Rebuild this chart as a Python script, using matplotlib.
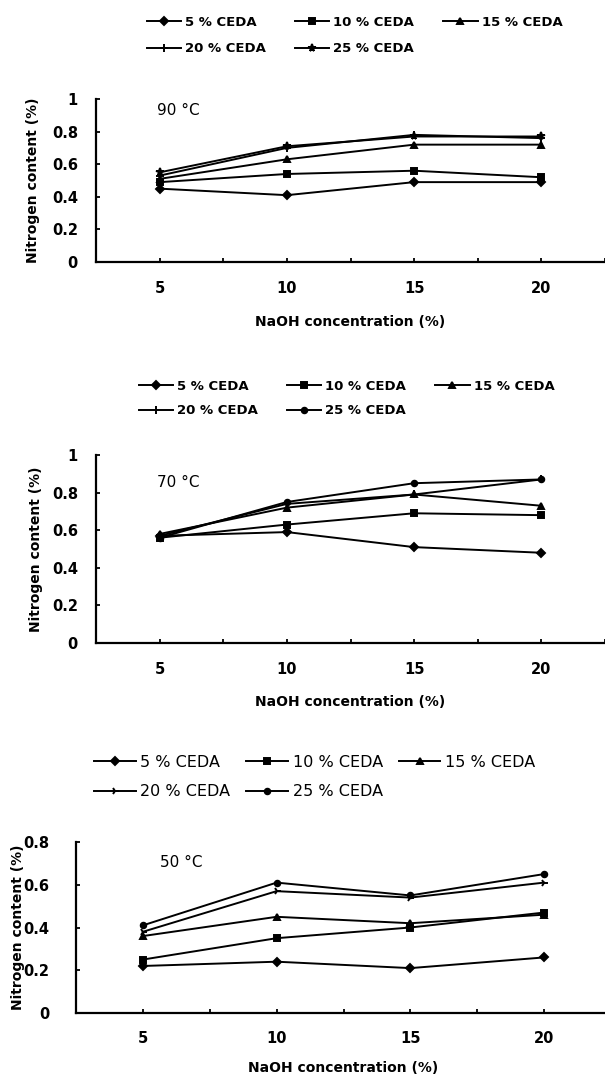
import matplotlib.pyplot as plt
from matplotlib.ticker import FixedLocator

plt.rcParams['font.family'] = ['DejaVu Sans']

# concentration de NaOH (%)
naoh = [5, 10, 15, 20]
ceda = ["5 % CEDA", "10 % CEDA", "15 % CEDA", "20 % CEDA", "25 % CEDA"]

# 90 °C
n90_5 = [0.45, 0.41, 0.49, 0.49]
n90_10 = [0.49, 0.54, 0.56, 0.52]
n90_15 = [0.51, 0.63, 0.72, 0.72]
n90_20 = [0.53, 0.70, 0.78, 0.76]
n90_25 = [0.55, 0.71, 0.77, 0.77]

# 70 °C
n70_5 = [0.57, 0.59, 0.51, 0.48]
n70_10 = [0.56, 0.63, 0.69, 0.68]
n70_15 = [0.58, 0.72, 0.79, 0.73]
n70_20 = [0.57, 0.74, 0.79, 0.87]
n70_25 = [0.56, 0.75, 0.85, 0.87]

# 50 °C
n50_5 = [0.22, 0.24, 0.21, 0.26]
n50_10 = [0.25, 0.35, 0.40, 0.47]
n50_15 = [0.36, 0.45, 0.42, 0.46]
n50_20 = [0.38, 0.57, 0.54, 0.61]
n50_25 = [0.41, 0.61, 0.55, 0.65]

W, H = 605, 1076
fig = plt.figure(figsize=(W / 100, H / 100), dpi=100)

panels = [
    # series, label, ymax, axes rect (px: left, top, width, height), legend (left, top), fonts
    dict(series=[n90_5, n90_10, n90_15, n90_20, n90_25], label="90 °C", ymax=1.0,
         rect=(96, 99, 509, 163), leg=(147, 16), legfs=9.5, legw="bold", colsp=2.2,
         lsp=1.0, marks=["D", "s", "^", "+", "*"],
         txt=(0.12, 0.93), ylab=-0.124, xlab=-0.368, ypad=13, xpad=14),
    dict(series=[n70_5, n70_10, n70_15, n70_20, n70_25], label="70 °C", ymax=1.0,
         rect=(96, 455, 509, 188), leg=(139, 380), legfs=9.5, legw="bold", colsp=2.2,
         lsp=0.85, marks=["D", "s", "^", "|", "o"],
         txt=(0.12, 0.856), ylab=-0.118, xlab=-0.314, ypad=13, xpad=14),
    dict(series=[n50_5, n50_10, n50_15, n50_20, n50_25], label="50 °C", ymax=0.8,
         rect=(76, 842, 535, 171), leg=(94, 755), legfs=11.5, legw="normal", colsp=1.0,
         lsp=0.9, marks=["D", "s", "^", "4", "o"],
         txt=(0.157, 0.883), ylab=-0.108, xlab=-0.322, ypad=19, xpad=13),
]

for p in panels:
    l, t, w, h = p["rect"]
    ax = fig.add_axes([l / W, 1 - (t + h) / H, w / W, h / H])
    lines = []
    for vals, mk in zip(p["series"], p["marks"]):
        ms = 4 if mk in ("D", "s", "o") else 4.5 if mk == "^" else 5.5
        ln, = ax.plot(naoh, vals, color="black", lw=1.4, marker=mk, markersize=ms,
                      markeredgewidth=1.4)
        lines.append(ln)
    ax.set_xlim(2.5, 22.5)
    ax.set_ylim(0, p["ymax"])
    ax.set_xticks(naoh)
    ax.xaxis.set_minor_locator(FixedLocator([2.5, 7.5, 12.5, 17.5, 22.5]))
    yt = [0, 0.2, 0.4, 0.6, 0.8, 1.0] if p["ymax"] == 1.0 else [0, 0.2, 0.4, 0.6, 0.8]
    ax.set_yticks(yt)
    ax.set_yticklabels(["%g" % v for v in yt])
    ax.tick_params(axis="both", which="both", direction="in", length=3, width=1.3,
                   labelsize=10.5)
    ax.tick_params(axis="y", pad=p["ypad"])
    ax.tick_params(axis="x", pad=p["xpad"])
    for lab in ax.get_xticklabels() + ax.get_yticklabels():
        lab.set_fontweight("bold")
    for s in ["top", "right"]:
        ax.spines[s].set_visible(False)
    for s in ["left", "bottom"]:
        ax.spines[s].set_linewidth(1.6)
    ax.set_xlabel("NaOH concentration (%)", fontsize=10, fontweight="bold")
    ax.xaxis.set_label_coords(0.5, p["xlab"])
    ax.xaxis.label.set_verticalalignment("center")
    ax.set_ylabel("Nitrogen content (%)", fontsize=10, fontweight="bold")
    ax.yaxis.set_label_coords(p["ylab"], 0.5)
    ax.yaxis.label.set_verticalalignment("center")
    ax.text(p["txt"][0], p["txt"][1], p["label"], transform=ax.transAxes,
            fontsize=11, va="center", ha="left")
    order = [0, 3, 1, 4, 2]
    fig.legend([lines[i] for i in order], [ceda[i] for i in order], ncol=3,
               loc="upper left", bbox_to_anchor=(p["leg"][0] / W, 1 - p["leg"][1] / H),
               frameon=False, prop=dict(size=p["legfs"], weight=p["legw"]), borderpad=0,
               borderaxespad=0, handlelength=2.6, handletextpad=0.3,
               columnspacing=p["colsp"], labelspacing=p["lsp"])

plt.savefig("out.png", dpi=100)
